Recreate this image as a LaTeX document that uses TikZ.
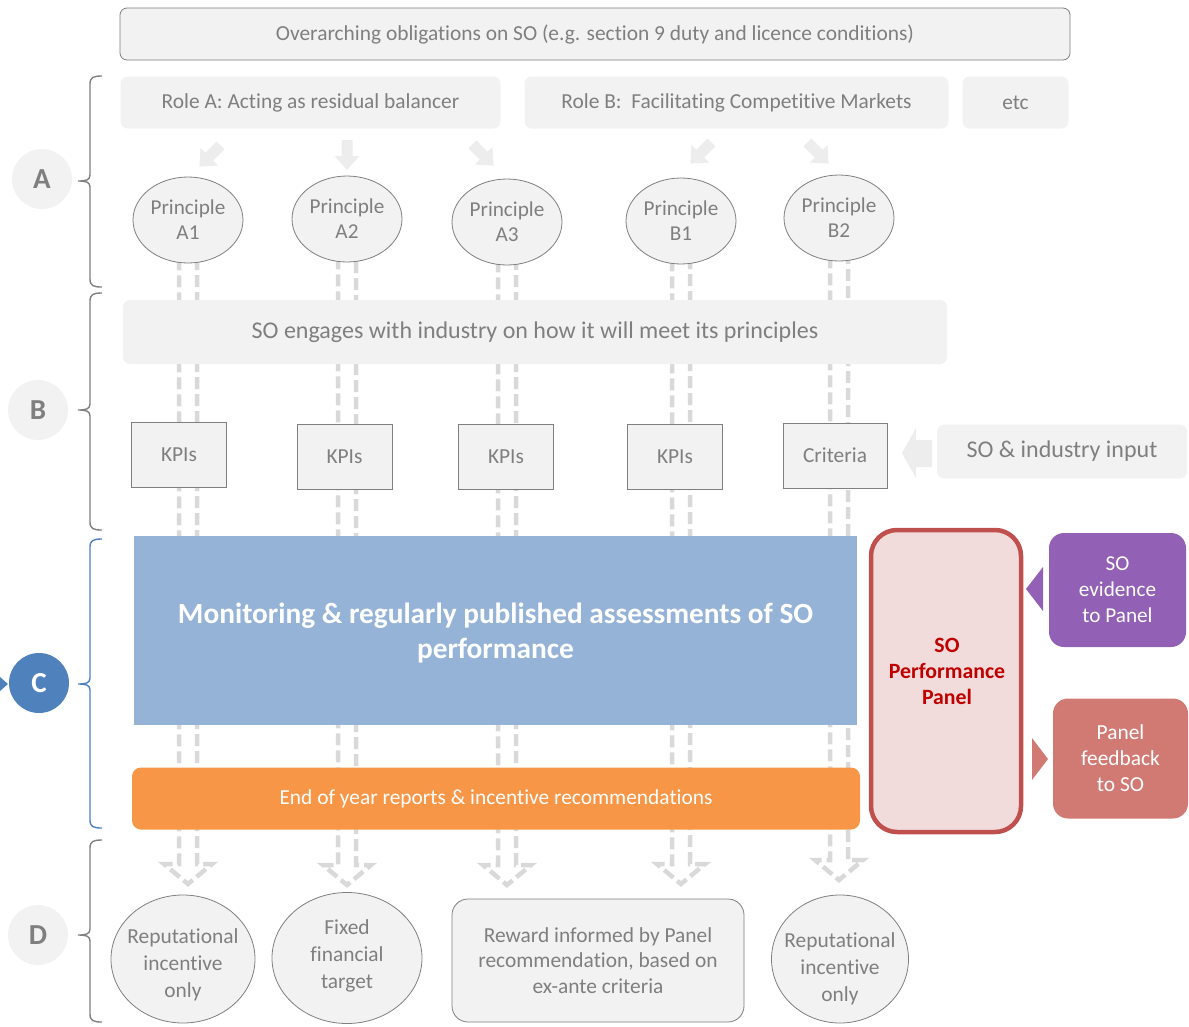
\documentclass[tikz,border=0pt]{standalone}
\usepackage{fontspec}
\setmainfont{Carlito}[Ligatures=NoCommon]
\usetikzlibrary{calc,backgrounds,shapes.geometric}

\definecolor{boxfill}{HTML}{F2F2F2}
\definecolor{boxline}{HTML}{7F7F7F}
\definecolor{txtgray}{HTML}{7F7F7F}
\definecolor{arrowfill}{HTML}{EDEDED}
\definecolor{dashgray}{HTML}{D9D9D9}
\definecolor{monblue}{HTML}{95B3D7}
\definecolor{secblue}{HTML}{4F81BD}
\definecolor{orangebar}{HTML}{F79646}
\definecolor{panelline}{HTML}{C0504D}
\definecolor{panelfill}{HTML}{F2DCDB}
\definecolor{paneltext}{HTML}{C00000}
\definecolor{evpurple}{HTML}{9260B4}
\definecolor{fbred}{HTML}{D17A74}
\definecolor{bracegray}{HTML}{808080}

\newcommand\setfs[2]{\fontsize{#1}{#2}\selectfont}

% curly bracket on the left margin: colour, top, bottom, middle
\newcommand\sidebrace[4]{%
  \draw[#1, line width=1.4pt]
    (102,#2) .. controls (94,#2) and (90,#2+1) .. (90,#2+8)
    -- (90,#4-6) .. controls (90,#4-1) and (86,#4) .. (78,#4)
    .. controls (86,#4) and (90,#4+1) .. (90,#4+6)
    -- (90,#3-8) .. controls (90,#3-1) and (94,#3) .. (102,#3);}

% dashed hollow arrow running down one column: top node, tip coordinate
\newcommand\dashcol[2]{%
  \draw[dashconn]
    ($(#1.south)+(-9,-5)$) -- ($(#2)+(-9,-20)$) -- ($(#2)+(-24,-20)$)
    -- (#2) -- ($(#2)+(24,-20)$) -- ($(#2)+(9,-20)$) -- ($(#1.south)+(9,-5)$);}

\tikzset{
  softbox/.style={rectangle, rounded corners=7pt, fill=boxfill, draw=none,
    text=txtgray, inner sep=0pt, font=\setfs{21.4}{26}},
  framedbox/.style={rectangle, fill=boxfill, draw=boxline, line width=0.8pt,
    text=txtgray, inner sep=0pt, font=\setfs{21.4}{26}},
  princ/.style={ellipse, fill=boxfill, draw=boxline, line width=0.8pt,
    text=txtgray, inner sep=0pt, align=center, minimum width=110pt,
    minimum height=86pt, font=\setfs{21.2}{25}},
  outcome/.style={ellipse, fill=boxfill, draw=boxline, line width=0.8pt,
    inner sep=0pt},
  outtext/.style={text=txtgray, inner sep=0pt, align=center,
    font=\setfs{21.4}{27}},
  kpi/.style={framedbox, minimum width=95pt, minimum height=65pt},
  stage/.style={circle, minimum size=60pt, inner sep=0pt, fill=boxfill,
    text=txtgray, font=\setfs{29}{29}\bfseries},
  dashconn/.style={draw=dashgray, line width=4.5pt, dash pattern=on 12pt off 5pt},
  downarrow/.pic={\fill[arrowfill] (-5.5,-15) -- (-5.5,1) -- (-12.5,1) -- (0,15)
    -- (12.5,1) -- (5.5,1) -- (5.5,-15) -- cycle;},
}

\begin{document}
\begin{tikzpicture}[x=1pt, y=-1pt]
\useasboundingbox (0,0) rectangle (1189,1026);

% ---------- top rows ----------
\node[framedbox, rounded corners=7pt, minimum width=950pt, minimum height=52pt,
  text depth=3pt]
  (oblig) at (595,34) {Overarching obligations on SO (e.g. section 9 duty and licence conditions)};
\node[softbox, minimum width=380pt, minimum height=52pt] (roleA) at (310.5,102.5)
  {Role A: Acting as residual balancer};
\node[softbox, minimum width=424pt, minimum height=52pt] (roleB) at (736.5,102.5)
  {Role B:\ \ Facilitating Competitive Markets};
\node[softbox, minimum width=106pt, minimum height=52pt] (etc) at (1015.5,102.5) {etc};

% block arrows from roles to principles
\pic[rotate=-45] at (210,156) {downarrow};
\pic at (347,155) {downarrow};
\pic[rotate=45] at (483,155) {downarrow};
\pic[rotate=-45] at (701,153) {downarrow};
\pic[rotate=45] at (818,153) {downarrow};

% principles
\node[princ] (pa1) at (188,220) {Principle\\A1};
\node[princ] (pa2) at (347,219) {Principle\\A2};
\node[princ] (pa3) at (507,222) {Principle\\A3};
\node[princ] (pb1) at (681,221) {Principle\\B1};
\node[princ] (pb2) at (839,218) {Principle\\B2};

% engagement band
\node[softbox, minimum width=824pt, minimum height=64pt, font=\setfs{24}{28}]
  (engage) at (535,332) {SO engages with industry on how it will meet its principles};

% KPIs and criteria
\node[kpi] (k1) at (179,454.5) {KPIs};
\node[kpi] (k2) at (344.5,457) {KPIs};
\node[kpi] (k3) at (506,457) {KPIs};
\node[kpi] (k4) at (675,457) {KPIs};
\node[kpi, minimum width=104pt] (crit) at (835,455.5) {Criteria};

\node[softbox, minimum width=250pt, minimum height=54pt, font=\setfs{24}{28}]
  (input) at (1062,451.5) {SO \& industry input};
\fill[arrowfill] (902,453) -- (916,428) -- (916,440) -- (932,440) -- (932,467)
  -- (916,467) -- (916,478) -- cycle;

% monitoring and reports
\node[rectangle, fill=monblue, minimum width=723pt, minimum height=189pt,
  inner sep=0pt] (monitor) at (495.5,630.5) {};
\node[text=white, align=center, font=\setfs{29.3}{35}\bfseries, inner sep=0pt]
  (montext) at (495.5,633.5)
  {Monitoring \& regularly published assessments of SO\\performance};
\node[rectangle, rounded corners=9pt, fill=orangebar, minimum width=728pt,
  minimum height=62pt, inner sep=0pt, text=white, font=\setfs{21.4}{26}]
  (reports) at (496,798.5) {End of year reports \& incentive recommendations};

% performance panel and its exchanges
\node[rectangle, rounded corners=26pt, fill=panelfill, draw=panelline,
  line width=4.5pt, minimum width=150pt, minimum height=302pt, inner sep=0pt]
  (panel) at (946,681) {};
\node[text=paneltext, align=center, font=\setfs{21.8}{26}\bfseries, inner sep=0pt]
  (paneltxt) at (947,671) {SO\\Performance\\Panel};
\node[rectangle, rounded corners=15pt, fill=evpurple, minimum width=137pt,
  minimum height=114pt, inner sep=0pt, text=white, align=center,
  font=\setfs{21.2}{26}] (evid) at (1117.5,590) {SO\\evidence\\to Panel};
\fill[evpurple] (1026,589) -- (1043,567) -- (1043,611) -- cycle;
\node[rectangle, rounded corners=15pt, fill=fbred, minimum width=135pt,
  minimum height=120pt, inner sep=0pt, text=white, align=center,
  font=\setfs{21.4}{26}] (fback) at (1120.5,758.5) {Panel\\feedback\\to SO};
\fill[fbred] (1048,759) -- (1032,738) -- (1032,780) -- cycle;

% outcomes
\node[outcome, minimum width=144pt, minimum height=128pt] (d1) at (183,959) {};
\node[outtext] (d1txt) at (183,965) {Reputational\\incentive\\only};
\node[outcome, minimum width=150pt, minimum height=131pt] (d2) at (347,958) {};
\node[outtext] (d2txt) at (347,956) {Fixed\\financial\\target};
\node[rectangle, rounded corners=16pt, fill=boxfill, draw=boxline, line width=0.8pt,
  minimum width=292pt, minimum height=123pt, inner sep=0pt, text=txtgray,
  align=center, font=\setfs{21.4}{25.5}] (d3) at (598,960.5)
  {Reward informed by Panel\\recommendation, based on\\ex-ante criteria};
\node[outcome, minimum width=137pt, minimum height=128pt] (d4) at (840,959) {};
\node[outtext] (d4txt) at (840,969) {Reputational\\incentive\\only};

% stage markers and brackets
\node[stage] (sa) at (42,179) {A};
\node[stage] (sb) at (38,410) {B};
\node[stage, fill=secblue, text=white] (sc) at (39,683) {C};
\node[stage] (sd) at (38,935) {D};
\fill[secblue] (0,677) -- (8,684) -- (0,691) -- cycle;

\sidebrace{bracegray}{76}{287}{181}
\sidebrace{bracegray}{293}{530}{410}
\sidebrace{secblue}{539}{828}{684}
\sidebrace{bracegray}{840}{1022}{935}

% dashed column arrows behind everything
\coordinate (t1) at (188,884);
\coordinate (t2) at (347,885);
\coordinate (t3) at (507,885);
\coordinate (t4) at (681,884);
\coordinate (t5) at (839,880);
\begin{pgfonlayer}{background}
  \dashcol{pa1}{t1}
  \dashcol{pa2}{t2}
  \dashcol{pa3}{t3}
  \dashcol{pb1}{t4}
  \dashcol{pb2}{t5}
\end{pgfonlayer}
\end{tikzpicture}
\end{document}
